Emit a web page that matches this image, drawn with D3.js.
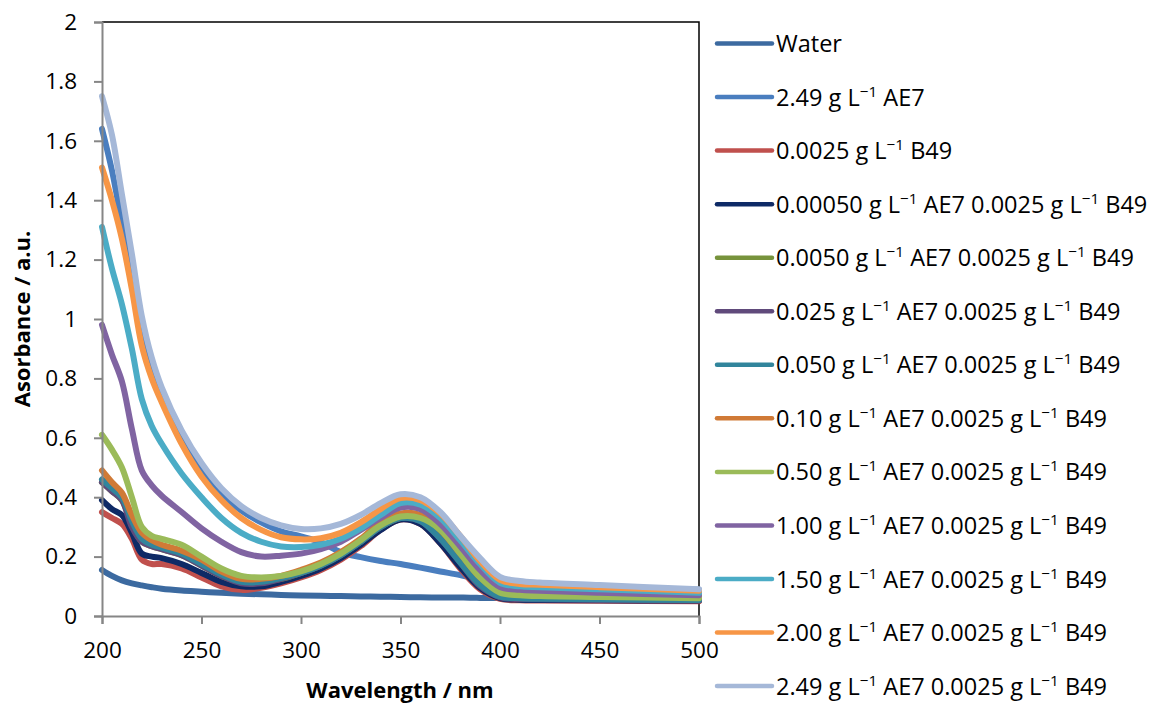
<!DOCTYPE html>
<html><head><meta charset="utf-8">
<script src="https://cdn.jsdelivr.net/npm/d3@7"></script>
<style>body{margin:0;background:#fff}svg{display:block}text{font-family:"Open Sans",sans-serif}</style>
</head><body><svg id="c" width="1160" height="704"></svg>
<script>
const wavelengths = [200,205,210,215,220,225,230,240,250,260,270,280,290,300,310,320,330,340,350,360,370,380,390,400,410,420,450,500];
const seriesNames = [
  ["Water"],
  ["2.49","AE7"],
  ["0.0025","B49"],
  ["0.00050","AE7","0.0025","B49"],
  ["0.0050","AE7","0.0025","B49"],
  ["0.025","AE7","0.0025","B49"],
  ["0.050","AE7","0.0025","B49"],
  ["0.10","AE7","0.0025","B49"],
  ["0.50","AE7","0.0025","B49"],
  ["1.00","AE7","0.0025","B49"],
  ["1.50","AE7","0.0025","B49"],
  ["2.00","AE7","0.0025","B49"],
  ["2.49","AE7","0.0025","B49"]
];
const seriesColors = ["#3C6AA0","#4A7EBF","#C0504D","#0E2A66","#77933C","#604A7B","#31859C","#D07A36","#9BBB59","#8064A2","#4BACC6","#F79646","#A5B8D8"];
const water      = [0.155,0.135,0.12,0.11,0.103,0.097,0.092,0.086,0.082,0.078,0.075,0.073,0.071,0.069,0.068,0.067,0.066,0.065,0.064,0.063,0.062,0.062,0.061,0.061,0.060,0.060,0.059,0.058];
const ae7        = [1.64,1.50,1.32,1.13,0.95,0.84,0.75,0.61,0.49,0.41,0.355,0.315,0.285,0.268,0.248,0.215,0.198,0.185,0.175,0.163,0.150,0.138,0.122,0.110,0.104,0.101,0.096,0.088];
const b49        = [0.35,0.33,0.31,0.26,0.19,0.175,0.175,0.16,0.13,0.10,0.088,0.095,0.11,0.13,0.155,0.19,0.235,0.29,0.325,0.31,0.245,0.16,0.09,0.058,0.053,0.052,0.051,0.050];
const mix00050   = [0.39,0.36,0.34,0.28,0.21,0.20,0.195,0.175,0.145,0.115,0.10,0.10,0.115,0.135,0.16,0.195,0.24,0.29,0.325,0.31,0.245,0.165,0.095,0.06,0.055,0.054,0.053,0.052];
const mix0050    = [0.45,0.42,0.39,0.31,0.25,0.235,0.225,0.205,0.17,0.135,0.115,0.115,0.125,0.145,0.17,0.205,0.25,0.30,0.33,0.325,0.27,0.19,0.11,0.068,0.062,0.060,0.058,0.056];
const mix025     = [0.45,0.42,0.39,0.30,0.25,0.235,0.225,0.205,0.17,0.135,0.11,0.11,0.125,0.145,0.17,0.205,0.25,0.30,0.33,0.32,0.26,0.18,0.10,0.063,0.057,0.056,0.054,0.053];
const mix050     = [0.46,0.43,0.40,0.32,0.26,0.24,0.23,0.21,0.175,0.14,0.115,0.115,0.128,0.145,0.17,0.205,0.25,0.30,0.33,0.32,0.26,0.18,0.105,0.065,0.06,0.058,0.056,0.054];
const mix10      = [0.49,0.45,0.415,0.34,0.28,0.255,0.24,0.22,0.19,0.15,0.125,0.125,0.135,0.155,0.18,0.215,0.26,0.315,0.345,0.34,0.29,0.21,0.13,0.082,0.076,0.074,0.069,0.064];
const mix50      = [0.61,0.56,0.50,0.40,0.30,0.27,0.26,0.24,0.20,0.16,0.135,0.13,0.135,0.15,0.175,0.21,0.255,0.305,0.335,0.33,0.29,0.21,0.13,0.078,0.070,0.067,0.064,0.060];
const mix100     = [0.98,0.88,0.79,0.63,0.49,0.44,0.405,0.35,0.295,0.25,0.215,0.20,0.203,0.21,0.225,0.25,0.29,0.33,0.365,0.36,0.31,0.235,0.155,0.098,0.088,0.085,0.078,0.070];
const mix150     = [1.31,1.17,1.05,0.90,0.73,0.64,0.58,0.48,0.40,0.33,0.28,0.25,0.234,0.232,0.24,0.26,0.295,0.34,0.38,0.375,0.33,0.255,0.175,0.112,0.10,0.097,0.090,0.078];
const mix200     = [1.51,1.40,1.27,1.10,0.91,0.80,0.72,0.58,0.47,0.39,0.33,0.29,0.265,0.258,0.262,0.28,0.315,0.36,0.397,0.39,0.345,0.27,0.185,0.122,0.108,0.105,0.097,0.085];
const mix249     = [1.75,1.62,1.42,1.22,1.01,0.87,0.77,0.625,0.515,0.43,0.37,0.33,0.305,0.293,0.295,0.31,0.34,0.38,0.41,0.40,0.35,0.27,0.195,0.132,0.118,0.113,0.104,0.090];
const seriesValues = [water,ae7,b49,mix00050,mix0050,mix025,mix050,mix10,mix50,mix100,mix150,mix200,mix249];
const xTicks = [200,250,300,350,400,450,500];
const yTicks = [0,0.2,0.4,0.6,0.8,1,1.2,1.4,1.6,1.8,2];

const svg = d3.select("#c");
const L=102, R=699, T=22, B=616;
const x = d3.scaleLinear().domain([200,500]).range([L,R]);
const y = d3.scaleLinear().domain([0,2]).range([B,T]);

svg.append("path").attr("d",`M${L},${T}H${R}V${B}`).attr("fill","none").attr("stroke","#000").attr("stroke-width",1.5);

const line = d3.line().x((d,i)=>x(wavelengths[i])).y(d=>y(d)).curve(d3.curveCatmullRom.alpha(0.5));
seriesValues.forEach((vals,k)=>{
  svg.append("path").attr("d",line(vals)).attr("fill","none")
    .attr("stroke",seriesColors[k]).attr("stroke-width",6).attr("stroke-linejoin","round").attr("stroke-linecap","round");
});

const xAxis = svg.append("g").attr("transform",`translate(0,${B})`)
  .call(d3.axisBottom(x).tickValues(xTicks).tickSize(8).tickPadding(18).tickFormat(d3.format("d")));
const yAxis = svg.append("g").attr("transform",`translate(${L},0)`)
  .call(d3.axisLeft(y).tickValues(yTicks).tickSize(8).tickPadding(17).tickFormat(d=>String(+d.toFixed(1))));
[xAxis,yAxis].forEach(g=>{
  g.select(".domain").attr("stroke","#868686").attr("stroke-width",2);
  g.selectAll(".tick line").attr("stroke","#868686").attr("stroke-width",2);
  g.selectAll(".tick text").attr("font-family","Open Sans").attr("font-size",22.5).attr("fill","#000");
});

svg.append("text").attr("x",400).attr("y",698).attr("text-anchor","middle")
  .attr("font-size",22).attr("font-weight","bold").text("Wavelength / nm");
svg.append("text").attr("transform","translate(30,319) rotate(-90)").attr("text-anchor","middle")
  .attr("font-size",22).attr("font-weight","bold").text("Asorbance / a.u.");

const lg = svg.append("g");
seriesNames.forEach((parts,k)=>{
  const cy = 43.5 + k*53.55;
  lg.append("line").attr("x1",717).attr("x2",772).attr("y1",cy).attr("y2",cy)
    .attr("stroke",seriesColors[k]).attr("stroke-width",4.5).attr("stroke-linecap","round");
  const t = lg.append("text").attr("x",776).attr("y",cy+8.5).attr("font-size",23.5).attr("fill","#000");
  if(parts.length===1){ t.text(parts[0]); return; }
  for(let i=0;i<parts.length;i+=2){
    t.append("tspan").text((i>0?" ":"")+parts[i]+" g L");
    t.append("tspan").attr("font-size","65%").attr("dy",-9).text("\u22121");
    t.append("tspan").attr("dy",9).text(" "+parts[i+1]);
  }
});
</script></body></html>
